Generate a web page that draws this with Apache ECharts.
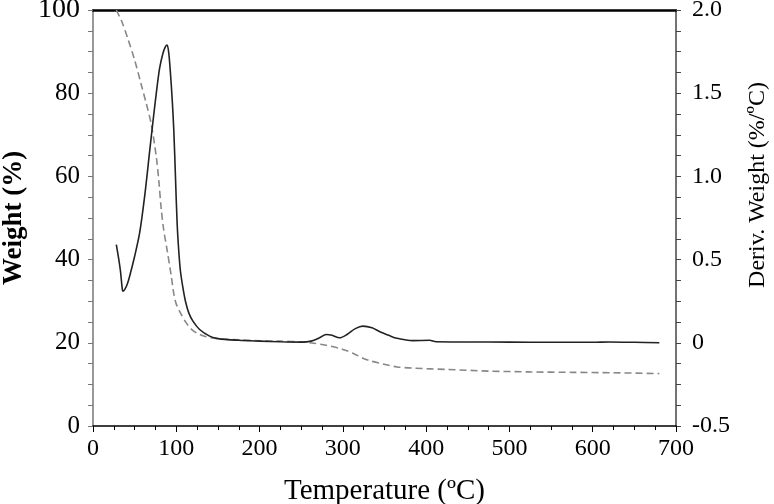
<!DOCTYPE html>
<html>
<head>
<meta charset="utf-8">
<script src="https://cdn.jsdelivr.net/npm/echarts@6/dist/echarts.min.js"></script>
<style>
  html, body { margin: 0; padding: 0; background: #fff; }
  #chart { width: 774px; height: 504px; }
</style>
</head>
<body>
<div id="chart"></div>
<script>
// weight curve (dashed, left axis)
const weightTemp = [28, 35, 42, 50, 58, 64, 70, 76, 79, 82, 85, 89, 94, 97, 100, 106, 112, 118, 125, 135, 150, 175, 200, 225, 250, 265, 280, 300, 312, 324, 334, 344, 355, 365, 385, 425, 475, 525, 575, 625, 680]
const weightVal = [100, 97, 93, 88, 82, 77.5, 72.5, 64.7, 59, 52, 47, 42.3, 36, 31.8, 29.3, 26.8, 24.8, 23.3, 22.3, 21.5, 21.0, 20.7, 20.5, 20.4, 20.2, 19.9, 19.4, 18.4, 17.5, 16.3, 15.6, 15.1, 14.6, 14.2, 13.9, 13.6, 13.2, 13.0, 12.9, 12.8, 12.6]

// derivative curve (solid, right axis)
const derivTemp = [28, 31, 33, 35, 36, 38, 41, 44, 50, 56, 62, 68, 72, 76, 80, 84, 87, 89, 91, 93, 95, 97, 99, 101, 103, 105, 108, 111, 115, 120, 128, 140, 150, 175, 200, 225, 250, 262, 272, 280, 287, 296, 305, 315, 324, 335, 345, 355, 365, 384, 404, 412, 450, 500, 550, 600, 620, 650, 680]
const derivVal = [0.59, 0.50, 0.43, 0.33, 0.31, 0.32, 0.35, 0.40, 0.52, 0.66, 0.88, 1.15, 1.33, 1.50, 1.65, 1.74, 1.78, 1.79, 1.74, 1.62, 1.47, 1.28, 1.00, 0.72, 0.55, 0.43, 0.33, 0.25, 0.18, 0.13, 0.08, 0.04, 0.025, 0.015, 0.01, 0.006, 0.004, 0.01, 0.03, 0.05, 0.045, 0.03, 0.05, 0.085, 0.10, 0.09, 0.065, 0.045, 0.027, 0.013, 0.015, 0.006, 0.005, 0.004, 0.003, 0.003, 0.005, 0.003, 0.0]

const weightData = weightTemp.map((t, i) => [t, weightVal[i]])
const derivData = derivTemp.map((t, i) => [t, derivVal[i]])

const font = 'Liberation Serif'
const chart = echarts.init(document.getElementById('chart'))
chart.setOption({
  animation: false,
  grid: { left: 93, right: 98, top: 10, bottom: 78, containLabel: false, outerBoundsMode: 'none' },
  xAxis: [
    {
      type: 'value',
      min: 0,
      max: 700,
      interval: 100,
      name: 'Temperature (\u00baC)',
      nameLocation: 'middle',
      nameGap: 51,
      nameTextStyle: { fontFamily: font, fontSize: 29, color: '#000' },
      axisLine: { onZero: false, lineStyle: { color: '#000', width: 1.5 } },
      axisTick: { length: 6, lineStyle: { color: '#000' } },
      minorTick: { show: true, splitNumber: 4, length: 4, lineStyle: { color: '#000' } },
      axisLabel: { fontFamily: font, fontSize: 24, color: '#000', margin: 11 },
      splitLine: { show: false }
    },
    {
      type: 'value',
      position: 'top',
      min: 0,
      max: 700,
      axisLine: { show: true, onZero: false, lineStyle: { color: '#000', width: 2.5 } },
      axisTick: { show: false },
      axisLabel: { show: false },
      splitLine: { show: false }
    }
  ],
  yAxis: [
    {
      type: 'value',
      min: 0,
      max: 100,
      interval: 20,
      name: 'Weight (%)',
      nameLocation: 'middle',
      nameGap: 60,
      nameTextStyle: { fontFamily: font, fontSize: 27, fontWeight: 'bold', color: '#000' },
      axisLine: { show: true, onZero: false, lineStyle: { color: '#777', width: 1.5 } },
      axisTick: { length: 5, lineStyle: { color: '#777' } },
      minorTick: { show: true, splitNumber: 4, length: 5, lineStyle: { color: '#777' } },
      axisLabel: {
        fontFamily: font, fontSize: 25, color: '#000', margin: 13,
        formatter: v => (v === 100 ? '{big|100}' : String(v)),
        rich: { big: { fontFamily: font, fontSize: 28, color: '#000' } }
      },
      splitLine: { show: false }
    },
    {
      type: 'value',
      min: -0.5,
      max: 2.0,
      interval: 0.5,
      position: 'right',
      name: 'Deriv. Weight (%/\u00baC)',
      nameLocation: 'middle',
      nameGap: 70,
      nameRotate: 90,
      nameTextStyle: { fontFamily: font, fontSize: 24, color: '#000', padding: [0, 0, 0, 66] },
      axisLine: { show: true, onZero: false, lineStyle: { color: '#444', width: 1.5 } },
      axisTick: { length: 5, lineStyle: { color: '#444' } },
      minorTick: { show: true, splitNumber: 4, length: 5, lineStyle: { color: '#444' } },
      axisLabel: {
        fontFamily: font, fontSize: 24, color: '#000', margin: 16,
        formatter: v => (v === 0 ? '0' : v.toFixed(1))
      },
      splitLine: { show: false }
    }
  ],
  series: [
    {
      type: 'line',
      data: weightData,
      xAxisIndex: 0,
      yAxisIndex: 0,
      smooth: 0.3,
      symbol: 'none',
      lineStyle: { color: '#888', width: 1.6, type: [7, 4] }
    },
    {
      type: 'line',
      data: derivData,
      xAxisIndex: 0,
      yAxisIndex: 1,
      smooth: 0.3,
      symbol: 'none',
      lineStyle: { color: '#222', width: 1.6 }
    }
  ]
})
</script>
</body>
</html>
